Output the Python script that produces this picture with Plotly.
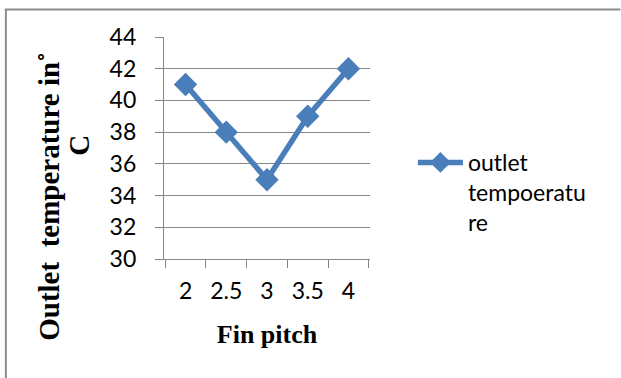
import plotly.graph_objects as go

# Fin pitch categories and measured outlet temperatures
fin_pitch = ["2", "2.5", "3", "3.5", "4"]
outlet_temp = [41, 38, 35, 39, 42]
y_ticks = [30, 32, 34, 36, 38, 40, 42, 44]

series_name = "outlet<br>tempoeratu<br>re"
line_color = "#4a7ebb"
grid_color = "#868686"
frame_color = "#8c8c8c"
sans = "Lato, 'Open Sans', sans-serif"
serif = "'Liberation Serif', 'Times New Roman', serif"

W, H = 621, 378
L, R, T, B = 163.5, 251, 37, 119
plot_w = W - L - R
plot_h = H - T - B


def px_x(px):
    return (px - L) / plot_w


def px_y(py):
    return (H - B - py) / plot_h


fig = go.Figure(
    go.Scatter(
        x=fin_pitch,
        y=outlet_temp,
        name=series_name,
        mode="lines+markers",
        line=dict(color=line_color, width=5.5),
        marker=dict(symbol="diamond", size=18, color=line_color),
        showlegend=True,
    )
)

fig.update_layout(
    width=W,
    height=H,
    margin=dict(l=L, r=R, t=T, b=B, pad=0),
    paper_bgcolor="white",
    plot_bgcolor="white",
    font=dict(family=sans, size=23, color="black"),
    legend=dict(
        x=px_x(413),
        y=px_y(141),
        xanchor="left",
        yanchor="top",
        valign="top",
        itemwidth=45,
        font=dict(family=sans, size=23, color="black"),
        bgcolor="rgba(0,0,0,0)",
        tracegroupgap=0,
    ),
    xaxis=dict(
        type="category",
        categoryorder="array",
        categoryarray=fin_pitch,
        showgrid=False,
        showline=True,
        linecolor=grid_color,
        linewidth=1.3,
        ticks="outside",
        tickson="boundaries",
        ticklen=8,
        tickcolor=grid_color,
        tickwidth=1.3,
        tickangle=0,
        ticklabelstandoff=11,
        tickfont=dict(family=sans, size=23, color="black"),
        title=dict(
            text="<b>Fin pitch</b>",
            font=dict(family=serif, size=26, color="black"),
            standoff=22,
        ),
        zeroline=False,
    ),
    yaxis=dict(
        range=[30, 44],
        tickvals=y_ticks,
        showgrid=True,
        gridcolor=grid_color,
        gridwidth=1.3,
        showline=True,
        linecolor=grid_color,
        linewidth=1.3,
        ticks="outside",
        ticklen=8,
        tickcolor=grid_color,
        tickwidth=1.3,
        ticklabelstandoff=14,
        tickfont=dict(family=sans, size=23, color="black"),
        zeroline=False,
    ),
)

# Two-line vertical axis title
fig.add_annotation(
    text="<b>Outlet  temperature in˚</b>",
    xref="paper", yref="paper",
    x=px_x(48), y=px_y(196),
    xanchor="center", yanchor="middle",
    textangle=-90, showarrow=False,
    font=dict(family=serif, size=29, color="black"),
)
fig.add_annotation(
    text="<b>C</b>",
    xref="paper", yref="paper",
    x=px_x(78), y=px_y(145),
    xanchor="center", yanchor="middle",
    textangle=-90, showarrow=False,
    font=dict(family=serif, size=29, color="black"),
)

# Chart frame: only its top and left edges lie on the page
fig.add_shape(
    type="line", xref="paper", yref="paper",
    x0=px_x(4), x1=px_x(621), y0=px_y(9.5), y1=px_y(9.5),
    line=dict(color=frame_color, width=2), layer="below",
)
fig.add_shape(
    type="line", xref="paper", yref="paper",
    x0=px_x(5), x1=px_x(5), y0=px_y(9), y1=px_y(378),
    line=dict(color=frame_color, width=2), layer="below",
)

fig.write_html("out.html")
